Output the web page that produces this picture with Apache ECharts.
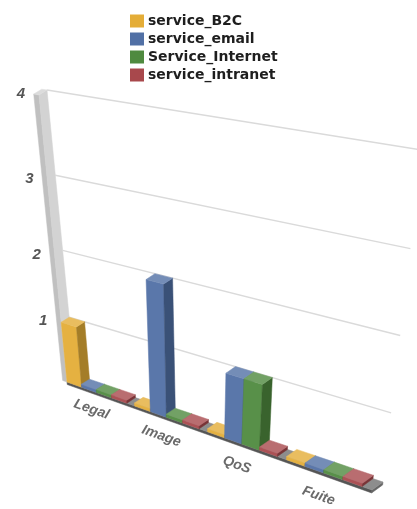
<!DOCTYPE html>
<html><head><meta charset="utf-8">
<script src="https://cdn.jsdelivr.net/npm/echarts@6/dist/echarts.min.js"></script>
<style>html,body{margin:0;padding:0;background:#fff}#c{width:417px;height:509px}</style>
</head><body><div id="c"></div>
<script>
// ---- data ----
const categories = ['Legal', 'Image', 'QoS', 'Fuite'];
const seriesNames = ['service_B2C', 'service_email', 'Service_Internet', 'service_intranet'];
const b2c = [1, 0, 0, 0];
const email = [0, 2, 1, 0];
const internet = [0, 0, 1, 0];
const intranet = [0, 0, 0, 0];
const yTicks = [1, 2, 3, 4];
const seriesValues = [b2c, email, internet, intranet];
const colors = ['#E4AD37', '#5170A5', '#4F8A3F', '#A8484C'];

// ---- perspective projection (style) ----
const P = {
  b00: [75, 377], b04: [47, 90], b10: [383, 482], b14: [422, 150],
  d0: [-8, 5], d1: [-11, 8], q: 0.17, s: 0.267, slot: 4.5, uMax: 18
};
function lerp(a, b, t) { return [a[0] + (b[0] - a[0]) * t, a[1] + (b[1] - a[1]) * t]; }
function proj(x, y, w) {
  const fu = x / (1 + P.q * (1 - x));
  const fv = y / (1 + P.s * (1 - y));
  const L = lerp(P.b00, P.b04, fv), R = lerp(P.b10, P.b14, fv);
  const B = lerp(L, R, fu);
  const D = lerp(P.d0, P.d1, fu);
  return [B[0] + (1 - w) * D[0], B[1] + (1 - w) * D[1]];
}
function makePt(params, api) {
  const cs = params.coordSys;
  return function (u, v, w) {
    const p = api.coord([u, v]);
    return proj((p[0] - cs.x) / cs.width, (cs.y + cs.height - p[1]) / cs.height, w);
  };
}
function shade(hex, f) {
  const n = parseInt(hex.slice(1), 16);
  let r = (n >> 16) & 255, g = (n >> 8) & 255, b = n & 255;
  if (f < 0) { r *= (1 + f); g *= (1 + f); b *= (1 + f); }
  else { r += (255 - r) * f; g += (255 - g) * f; b += (255 - b) * f; }
  return 'rgb(' + Math.round(r) + ',' + Math.round(g) + ',' + Math.round(b) + ')';
}
function poly(pts, fill, stroke) {
  return { type: 'polygon', shape: { points: pts }, style: { fill: fill, stroke: stroke || fill, lineWidth: 0.5 } };
}
function box(pt, u0, u1, v0, v1, w0, w1, cFront, cEnd, cTop) {
  return [
    poly([pt(u0, v0, w0), pt(u1, v0, w0), pt(u1, v1, w0), pt(u0, v1, w0)], cFront),
    poly([pt(u1, v0, w0), pt(u1, v0, w1), pt(u1, v1, w1), pt(u1, v1, w0)], cEnd),
    poly([pt(u0, v1, w0), pt(u1, v1, w0), pt(u1, v1, w1), pt(u0, v1, w1)], cTop)
  ];
}

function barRender(k) {
  return function (params, api) {
    const pt = makePt(params, api);
    const cat = api.value(0), val = api.value(1);
    const u0 = cat * P.slot + k, u1 = u0 + 1;
    const h = val > 0 ? val : 0.05;
    const c = colors[k];
    return { type: 'group', children: box(pt, u0, u1, 0, h, 0, 1, shade(c, 0.05), shade(c, -0.28), shade(c, 0.2)) };
  };
}

function decoRender(params, api) {
  const pt = makePt(params, api);
  const ch = [];
  yTicks.forEach(function (v) {
    ch.push({ type: 'polyline', shape: { points: [pt(0, v, 1), pt(P.uMax, v, 1)] },
      style: { stroke: '#dadada', lineWidth: 1.4, fill: null } });
  });
  // side wall
  box(pt, -0.3, 0, 0, yTicks[yTicks.length - 1], 0, 1, '#c0c0c0', '#d3d3d3', '#dcdcdc').forEach(function (e) { ch.push(e); });
  // floor slab
  box(pt, 0, P.uMax, -0.045, 0, 0, 1, '#555', '#666', '#8d8d8d').forEach(function (e) { ch.push(e); });
  return { type: 'group', children: ch };
}

function tickRender(params, api) {
  const pt = makePt(params, api);
  const v = api.value(1);
  const p = pt(0, v, 0);
  return { type: 'text', x: p[0] - 18, y: p[1] - 1,
    style: { text: String(v), fill: '#555', font: 'italic bold 15px "Liberation Sans", Arial', align: 'center', verticalAlign: 'middle' } };
}
function catRender(params, api) {
  const pt = makePt(params, api);
  const i = api.value(0);
  const p = pt(i * P.slot + 2, 0, 0);
  return { type: 'text', x: p[0] - 5, y: p[1] + 17 + 2 * i, rotation: -0.34,
    style: { text: categories[i], fill: '#6a6a6a', font: 'italic bold 14px "Liberation Sans", Arial', align: 'center', verticalAlign: 'middle' } };
}

const series = [
  { type: 'custom', name: 'deco', coordinateSystem: 'cartesian2d', renderItem: decoRender, data: [[0, 0]], z: 1, silent: true }
];
seriesValues.forEach(function (vals, k) {
  series.push({ type: 'custom', name: seriesNames[k], coordinateSystem: 'cartesian2d', renderItem: barRender(k),
    itemStyle: { color: colors[k] }, encode: { x: 0, y: 1 },
    data: vals.map(function (v, i) { return [i, v]; }), z: 2 });
});
series.push({ type: 'custom', name: 'ticks', coordinateSystem: 'cartesian2d', renderItem: tickRender,
  data: yTicks.map(function (v) { return [0, v]; }), z: 3, silent: true });
series.push({ type: 'custom', name: 'cats', coordinateSystem: 'cartesian2d', renderItem: catRender,
  data: categories.map(function (c, i) { return [i, 0]; }), z: 3, silent: true });

const chart = echarts.init(document.getElementById('c'), null, { renderer: 'canvas' });
chart.setOption({
  animation: false,
  backgroundColor: '#fff',
  color: colors,
  legend: {
    data: seriesNames, orient: 'vertical', left: 125, top: 9,
    icon: 'rect', itemWidth: 14, itemHeight: 13, itemGap: 4,
    textStyle: { fontFamily: 'DejaVu Sans', fontWeight: 'bold', fontSize: 14, color: '#1e1e1e', padding: [0, 0, 0, -1] }
  },
  grid: { left: 0, top: 0, right: 0, bottom: 0 },
  xAxis: { type: 'value', min: 0, max: P.uMax, show: false },
  yAxis: { type: 'value', min: 0, max: 4, interval: 1, show: false },
  series: series
});
</script>
</body></html>
